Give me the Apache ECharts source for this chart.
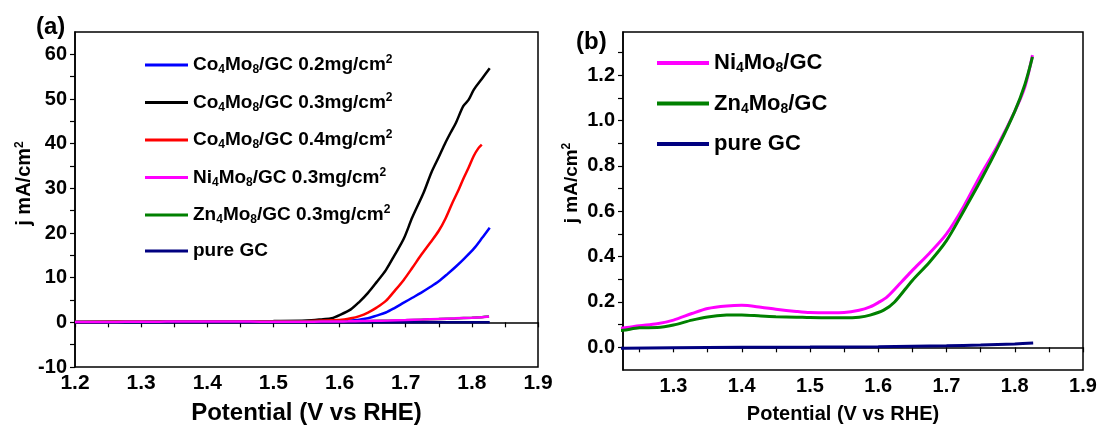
<!DOCTYPE html>
<html>
<head>
<meta charset="utf-8">
<script src="https://cdn.jsdelivr.net/npm/echarts@6/dist/echarts.min.js"></script>
<style>
html,body{margin:0;padding:0;background:#fff;}
#chart{width:1100px;height:430px;}
</style>
</head>
<body>
<div id="chart"></div>
<script>
// ---------- data (potential in V vs RHE, current density in mA/cm2) ----------
const potCo02 = [1.2, 1.3, 1.4, 1.5, 1.55, 1.6, 1.617, 1.63, 1.643, 1.656, 1.67, 1.683, 1.697, 1.71, 1.723, 1.737, 1.75, 1.763, 1.776, 1.79, 1.803, 1.815, 1.827];
const curCo02 = [0.1, 0.1, 0.12, 0.15, 0.2, 0.3, 0.4, 0.6, 0.9, 1.5, 2.2, 3.2, 4.4, 5.5, 6.6, 7.9, 9.2, 10.8, 12.5, 14.5, 16.5, 18.8, 21.2];

const potCo03 = [1.2, 1.3, 1.4, 1.5, 1.55, 1.575, 1.588, 1.6, 1.617, 1.63, 1.643, 1.656, 1.67, 1.683, 1.697, 1.71, 1.727, 1.739, 1.75, 1.76, 1.768, 1.776, 1.787, 1.795, 1.803, 1.815, 1.827];
const curCo03 = [0.1, 0.15, 0.2, 0.3, 0.4, 0.7, 0.9, 1.6, 2.9, 4.6, 6.6, 9.0, 11.7, 15.0, 18.7, 23.5, 29.0, 33.6, 37.0, 40.2, 42.5, 44.7, 48.4, 49.8, 52.1, 54.5, 56.9];

const potCo04 = [1.2, 1.3, 1.4, 1.5, 1.55, 1.6, 1.617, 1.63, 1.643, 1.656, 1.67, 1.683, 1.697, 1.71, 1.723, 1.737, 1.75, 1.76, 1.771, 1.78, 1.787, 1.795, 1.803, 1.81, 1.815];
const curCo04 = [0.1, 0.12, 0.15, 0.2, 0.25, 0.5, 0.9, 1.4, 2.2, 3.3, 4.8, 7.0, 9.5, 12.2, 15.0, 17.8, 20.5, 23.2, 26.9, 29.7, 32.1, 34.6, 37.3, 39.0, 39.8];

const potNi = [1.2, 1.226, 1.25, 1.276, 1.3, 1.327, 1.35, 1.378, 1.4, 1.428, 1.45, 1.48, 1.5, 1.531, 1.55, 1.572, 1.588, 1.6, 1.613, 1.634, 1.65, 1.675, 1.7, 1.725, 1.75, 1.775, 1.8, 1.815, 1.826];
const curNi = [0.08, 0.085, 0.095, 0.104, 0.12, 0.149, 0.171, 0.182, 0.185, 0.177, 0.168, 0.158, 0.153, 0.152, 0.153, 0.163, 0.178, 0.197, 0.222, 0.288, 0.339, 0.415, 0.5, 0.62, 0.76, 0.89, 1.04, 1.15, 1.288];

const potZn = [1.2, 1.226, 1.25, 1.276, 1.3, 1.327, 1.35, 1.378, 1.4, 1.428, 1.45, 1.48, 1.5, 1.531, 1.55, 1.572, 1.588, 1.608, 1.624, 1.65, 1.675, 1.7, 1.725, 1.75, 1.775, 1.8, 1.815, 1.826];
const curZn = [0.07, 0.075, 0.086, 0.087, 0.098, 0.12, 0.134, 0.142, 0.143, 0.138, 0.135, 0.133, 0.131, 0.13, 0.13, 0.133, 0.142, 0.164, 0.2, 0.295, 0.375, 0.47, 0.6, 0.735, 0.88, 1.04, 1.16, 1.28];

const potGC = [1.2, 1.226, 1.3, 1.4, 1.5, 1.6, 1.65, 1.7, 1.75, 1.8, 1.827];
const curGC = [-0.005, -0.004, -0.002, 0, 0.001, 0.003, 0.005, 0.007, 0.01, 0.015, 0.019];

// ---------- axis ticks / labels ----------
const xLabelsA = [1.2, 1.3, 1.4, 1.5, 1.6, 1.7, 1.8, 1.9];
const xTicksA = [1.2, 1.25, 1.3, 1.35, 1.4, 1.45, 1.5, 1.55, 1.6, 1.65, 1.7, 1.75, 1.8, 1.85, 1.9];
const yLabelsA = [-10, 0, 10, 20, 30, 40, 50, 60];
const yTicksA = [-10, -5, 0, 5, 10, 15, 20, 25, 30, 35, 40, 45, 50, 55, 60];
const xLabelsB = [1.3, 1.4, 1.5, 1.6, 1.7, 1.8, 1.9];
const xTicksB = [1.25, 1.3, 1.35, 1.4, 1.45, 1.5, 1.55, 1.6, 1.65, 1.7, 1.75, 1.8, 1.85, 1.9];
const yLabelsB = [0, 0.2, 0.4, 0.6, 0.8, 1.0, 1.2];
const yTicksB = [0, 0.1, 0.2, 0.3, 0.4, 0.5, 0.6, 0.7, 0.8, 0.9, 1.0, 1.1, 1.2, 1.3];

const namesA = ['Co4Mo8/GC 0.2mg/cm2', 'Co4Mo8/GC 0.3mg/cm2', 'Co4Mo8/GC 0.4mg/cm2', 'Ni4Mo8/GC 0.3mg/cm2', 'Zn4Mo8/GC 0.3mg/cm2', 'pure GC'];
const namesB = ['Ni4Mo8/GC', 'Zn4Mo8/GC', 'pure GC'];

const FONT = "'Liberation Sans', Arial, sans-serif";
function pairs(xs, ys) { return xs.map((x, i) => [x, ys[i]]); }

// rich-text formatter: element subscripts and cm^2 superscript
function chem(name) {
  let out = '';
  const re = /(Co|Mo|Ni|Zn)(\d)|(cm)(2)$|([^]+?)(?=(Co|Mo|Ni|Zn)\d|cm2$|$)/g;
  let m;
  while ((m = re.exec(name)) !== null) {
    if (m[0] === '') { re.lastIndex++; continue; }
    if (m[1]) out += '{n|' + m[1] + '}{s|' + m[2] + '}';
    else if (m[3]) out += '{n|cm}{p|2}';
    else out += '{n|' + m[5] + '}';
  }
  return out;
}

const chart = echarts.init(document.getElementById('chart'), null, {renderer: 'canvas'});

function xAxisCfg(idx, min, max, labels, ticks, fs, nameFs, gap, pad) {
  return {
    type: 'value', gridIndex: idx, min: min, max: max,
    name: 'Potential (V vs RHE)', nameLocation: 'middle', nameGap: gap,
    nameTextStyle: {fontFamily: FONT, fontWeight: 'bold', fontSize: nameFs, color: '#000', padding: pad},
    axisLine: {show: true, lineStyle: {color: '#000', width: 1.5}},
    axisTick: {show: true, length: 5, lineStyle: {color: '#000', width: 1.2}, customValues: ticks},
    axisLabel: {show: true, margin: 6, fontFamily: FONT, fontWeight: 'bold', fontSize: fs, color: '#000',
      customValues: labels, formatter: v => Number(v).toFixed(1)},
    splitLine: {show: false}
  };
}
function yAxisCfg(idx, min, max, labels, ticks, fs, nameFs, gap, pad, fmt) {
  return {
    type: 'value', gridIndex: idx, min: min, max: max,
    name: '{n|j mA/cm}{p|2}', nameLocation: 'middle', nameGap: gap, nameRotate: 90,
    nameTextStyle: {fontFamily: FONT, fontWeight: 'bold', fontSize: nameFs, color: '#000', padding: pad,
      rich: {
        n: {fontFamily: FONT, fontWeight: 'bold', fontSize: nameFs, color: '#000', lineHeight: 24},
        p: {fontFamily: FONT, fontWeight: 'bold', fontSize: Math.round(nameFs * 0.62), color: '#000', padding: [0, 0, 10, 0]}
      }},
    axisLine: {show: true, lineStyle: {color: '#000', width: 1.5}},
    axisTick: {show: true, length: 5, lineStyle: {color: '#000', width: 1.2}, customValues: ticks},
    axisLabel: {show: true, margin: 8, fontFamily: FONT, fontWeight: 'bold', fontSize: fs, color: '#000',
      customValues: labels, formatter: fmt},
    splitLine: {show: false}
  };
}

function line(name, xi, xs, ys, color, w, z) {
  return {
    name: name, type: 'line', xAxisIndex: xi, yAxisIndex: xi,
    data: pairs(xs, ys), showSymbol: false, symbol: 'none', smooth: 0.3,
    lineStyle: {color: color, width: w}, itemStyle: {color: color}, z: z, clip: true
  };
}

const richA = {
  n: {fontFamily: FONT, fontWeight: 'bold', fontSize: 19, color: '#000', lineHeight: 24},
  s: {fontFamily: FONT, fontWeight: 'bold', fontSize: 12, color: '#000', padding: [10, 0, 0, 0]},
  p: {fontFamily: FONT, fontWeight: 'bold', fontSize: 12, color: '#000', padding: [0, 0, 10, 0]}
};
const richB = {
  n: {fontFamily: FONT, fontWeight: 'bold', fontSize: 22, color: '#000', lineHeight: 28},
  s: {fontFamily: FONT, fontWeight: 'bold', fontSize: 14, color: '#000', padding: [11, 0, 0, 0]},
  p: {fontFamily: FONT, fontWeight: 'bold', fontSize: 14, color: '#000', padding: [0, 0, 11, 0]}
};

const option = {
  animation: false,
  backgroundColor: '#fff',
  title: [
    {text: '(a)', left: 36, top: 15, textStyle: {fontFamily: FONT, fontWeight: 'bold', fontSize: 24, color: '#000'}, padding: 0},
    {text: '(b)', left: 576, top: 30, textStyle: {fontFamily: FONT, fontWeight: 'bold', fontSize: 24, color: '#000'}, padding: 0}
  ],
  grid: [
    {left: 75, top: 32, width: 463, height: 338, show: true, borderColor: '#000', borderWidth: 1.5, backgroundColor: 'transparent'},
    {left: 623, top: 32, width: 460, height: 338, show: true, borderColor: '#000', borderWidth: 1.5, backgroundColor: 'transparent'}
  ],
  xAxis: [
    xAxisCfg(0, 1.2, 1.9, xLabelsA, xTicksA, 21, 24, 34, [0, 0, 0, 0]),
    xAxisCfg(1, 1.226, 1.9, xLabelsB, xTicksB, 20, 20, 34, [0, 20, 0, 0])
  ],
  yAxis: [
    yAxisCfg(0, -10, 65, yLabelsA, yTicksA, 20, 20, 35, [0, 0, 0, 32], v => String(Math.round(v))),
    yAxisCfg(1, -0.1, 1.39, yLabelsB, yTicksB, 20, 19, 39, [0, 0, 0, 36], v => Number(v).toFixed(1))
  ],
  legend: [
    {
      data: namesA, orient: 'vertical', left: 140, top: 49, itemGap: 15.5,
      itemWidth: 43, itemHeight: 3, icon: 'rect',
      formatter: chem, textStyle: {rich: richA, fontFamily: FONT, fontWeight: 'bold', fontSize: 19, color: '#000'},
      selectedMode: false
    },
    {
      data: namesB, orient: 'vertical', left: 652, top: 47, itemGap: 17,
      itemWidth: 52, itemHeight: 4, icon: 'rect',
      formatter: chem, textStyle: {rich: richB, fontFamily: FONT, fontWeight: 'bold', fontSize: 22, color: '#000'},
      selectedMode: false
    }
  ],
  series: [
    line(namesA[0], 0, potCo02, curCo02, '#0000ff', 2.5, 2),
    line(namesA[1], 0, potCo03, curCo03, '#000000', 2.5, 3),
    line(namesA[2], 0, potCo04, curCo04, '#ff0000', 2.5, 4),
    line(namesA[4], 0, potZn, curZn, '#008000', 2.5, 5),
    line(namesA[5], 0, potGC, curGC, '#000080', 2.5, 6),
    line(namesA[3], 0, potNi, curNi, '#ff00ff', 2.5, 7),
    line(namesB[0], 1, potNi, curNi, '#ff00ff', 3, 3),
    line(namesB[1], 1, potZn, curZn, '#008000', 3, 4),
    line(namesB[2], 1, potGC, curGC, '#000080', 3, 5)
  ]
};
chart.setOption(option);
</script>
</body>
</html>
